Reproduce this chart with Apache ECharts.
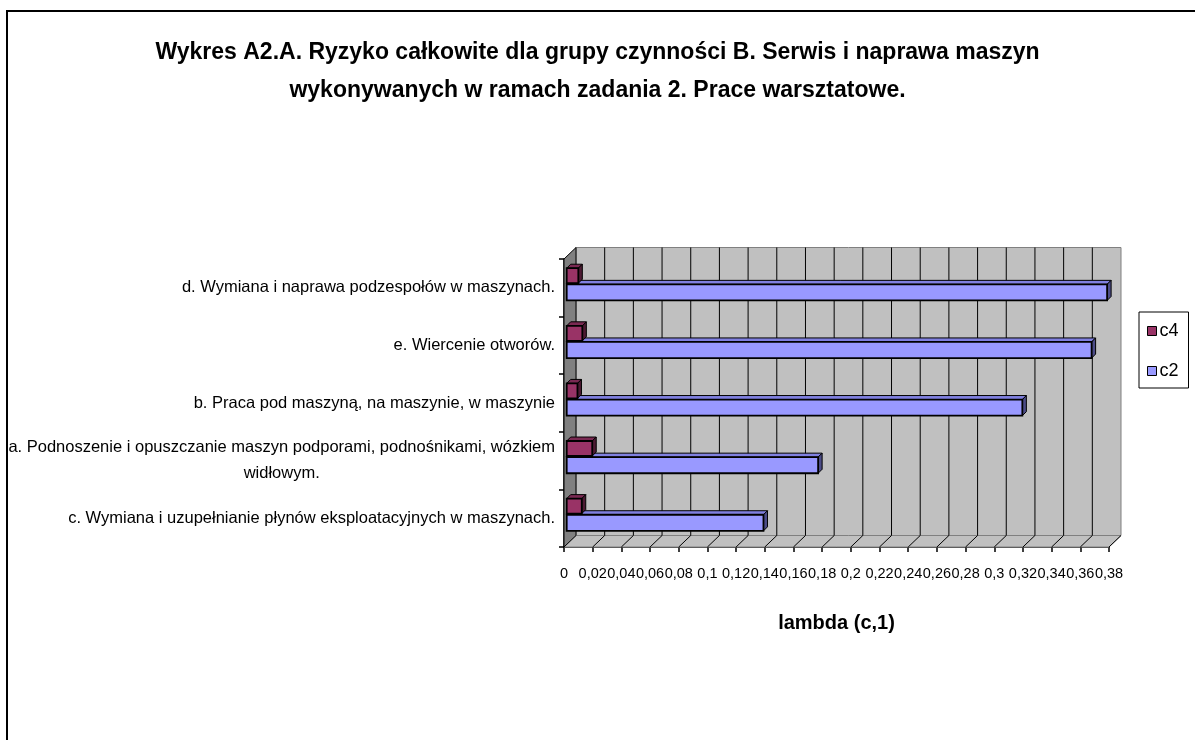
<!DOCTYPE html>
<html>
<head>
<meta charset="utf-8">
<script src="https://cdn.jsdelivr.net/npm/echarts@6/dist/echarts.min.js"></script>
<style>
  html, body { margin: 0; padding: 0; background: #fff; }
  #chart { width: 1195px; height: 740px; }
</style>
</head>
<body>
<div id="chart"></div>
<script>
// categories top to bottom, as in the picture
var categories = [
  'd. Wymiana i naprawa podzespołów w maszynach.',
  'e. Wiercenie otworów.',
  'b. Praca pod maszyną, na maszynie, w maszynie',
  'a. Podnoszenie i opuszczanie maszyn podporami, podnośnikami, wózkiem\nwidłowym.',
  'c. Wymiana i uzupełnianie płynów eksploatacyjnych w maszynach.'
];
var c4Values = [0.0081, 0.0109, 0.0075, 0.0178, 0.0105];
var c2Values = [0.3768, 0.366, 0.3177, 0.1753, 0.1372];
var xTicks = [0, 0.02, 0.04, 0.06, 0.08, 0.1, 0.12, 0.14, 0.16, 0.18, 0.2,
  0.22, 0.24, 0.26, 0.28, 0.3, 0.32, 0.34, 0.36, 0.38];
var xTickLabels = ['0', '0,02', '0,04', '0,06', '0,08', '0,1', '0,12', '0,14', '0,16', '0,18', '0,2',
  '0,22', '0,24', '0,26', '0,28', '0,3', '0,32', '0,34', '0,36', '0,38'];

var FONT = "'Liberation Sans', Arial, sans-serif";
var DX = 12, DY = 11.5;      // depth of the walls
var BX = 4, BY = 4;          // depth of the bars

var chart = echarts.init(document.getElementById('chart'));

function frameItem(params, api) {
  var cs = params.coordSys;
  var x = cs.x, y = cs.y, w = cs.width, h = cs.height;
  var kids = [];
  // back wall
  kids.push({ type: 'rect', shape: { x: x + DX, y: y - DY, width: w, height: h },
    style: { fill: '#c0c0c0', stroke: '#808080', lineWidth: 1 } });
  // floor
  kids.push({ type: 'polygon', shape: { points: [[x, y + h], [x + DX, y + h - DY], [x + w + DX, y + h - DY], [x + w, y + h]] },
    style: { fill: '#c0c0c0', stroke: '#808080', lineWidth: 1 } });
  // side wall
  kids.push({ type: 'polygon', shape: { points: [[x, y], [x + DX, y - DY], [x + DX, y + h - DY], [x, y + h]] },
    style: { fill: '#808080', stroke: '#000', lineWidth: 1 } });
  xTicks.forEach(function (t, i) {
    var px = api.coord([t, 0])[0];
    if (i > 0 && i < xTicks.length - 1) {
      kids.push({ type: 'line', shape: { x1: px + DX, y1: y - DY, x2: px + DX, y2: y + h - DY },
        style: { stroke: '#000', lineWidth: 1 } });
    }
    if (i > 0) {
      kids.push({ type: 'line', shape: { x1: px, y1: y + h, x2: px + DX, y2: y + h - DY },
        style: { stroke: '#000', lineWidth: 1 } });
    }
  });
  return { type: 'group', children: kids };
}

function barItem(top, bottom, front, topC, side) {
  return function (params, api) {
    var v = api.value(0), c = api.value(1);
    var p0 = api.coord([0, c]);
    var p1 = api.coord([v, c]);
    var band = api.size([0, 1])[1];
    var x0 = p0[0] + 2.7, x1 = p1[0] + 2.7;
    var yt = p0[1] + top * band, yb = p0[1] + bottom * band;
    return {
      type: 'group',
      children: [
        { type: 'polygon', shape: { points: [[x0, yt], [x0 + BX, yt - BY], [x1 + BX, yt - BY], [x1, yt]] },
          style: { fill: topC, stroke: '#000', lineWidth: 1 } },
        { type: 'polygon', shape: { points: [[x1, yt], [x1 + BX, yt - BY], [x1 + BX, yb - BY], [x1, yb]] },
          style: { fill: side, stroke: '#000', lineWidth: 1 } },
        { type: 'rect', shape: { x: x0, y: yt, width: x1 - x0, height: yb - yt },
          style: { fill: front, stroke: '#000', lineWidth: 1.8 } }
      ]
    };
  };
}

chart.setOption({
  backgroundColor: '#fff',
  animation: false,
  title: {
    text: 'Wykres A2.A. Ryzyko całkowite dla grupy czynności B. Serwis i naprawa maszyn\nwykonywanych w ramach zadania 2. Prace warsztatowe.',
    left: 'center',
    top: 29,
    textStyle: { fontFamily: FONT, fontSize: 23, fontWeight: 'bold', color: '#000', lineHeight: 38, align: 'center' }
  },
  graphic: [{
    type: 'rect', shape: { x: 7, y: 11, width: 1400, height: 1000 },
    style: { fill: 'none', stroke: '#000', lineWidth: 2 }, silent: true, z: 100
  }],
  legend: {
    orient: 'vertical',
    left: 1139,
    top: 312,
    padding: [10, 10, 8, 8],
    itemGap: 22,
    itemWidth: 9,
    itemHeight: 9,
    borderColor: '#000',
    borderWidth: 1,
    icon: 'rect',
    textStyle: { fontFamily: FONT, fontSize: 18, color: '#000', lineHeight: 16, padding: [0, 0, 0, -2] },
    data: [
      { name: 'c4', itemStyle: { color: '#993366', borderColor: '#000', borderWidth: 1 } },
      { name: 'c2', itemStyle: { color: '#9999ff', borderColor: '#000', borderWidth: 1 } }
    ]
  },
  grid: { left: 564, right: 86, top: 259, bottom: 193, containLabel: false, outerBoundsMode: 'none' },
  xAxis: {
    type: 'value',
    min: 0,
    max: 0.38,
    interval: 0.02,
    name: 'lambda (c,1)',
    nameLocation: 'middle',
    nameGap: 66,
    nameTextStyle: { fontFamily: FONT, fontSize: 20, fontWeight: 'bold', color: '#000' },
    axisLine: { show: true, lineStyle: { color: '#000', width: 1.5 } },
    axisTick: { show: true, length: 5, lineStyle: { color: '#000', width: 1.5 } },
    splitLine: { show: false },
    axisLabel: {
      fontFamily: FONT, fontSize: 14.5, color: '#000', margin: 19, hideOverlap: false,
      showMinLabel: true, showMaxLabel: true,
      formatter: function (v) {
        for (var i = 0; i < xTicks.length; i++) {
          if (Math.abs(xTicks[i] - v) < 1e-9) return xTickLabels[i];
        }
        return '';
      }
    }
  },
  yAxis: {
    type: 'category',
    inverse: true,
    data: categories,
    axisLine: { show: true, lineStyle: { color: '#000', width: 1.5 } },
    axisTick: { show: true, length: 5, lineStyle: { color: '#000', width: 1.5 } },
    axisLabel: {
      margin: 9,
      interval: 0,
      formatter: function (v) {
        return v.split('\n').map(function (l) { return '{c|' + l + '}'; }).join('\n');
      },
      rich: { c: { fontFamily: FONT, fontSize: 16.5, color: '#000', lineHeight: 26, align: 'center' } }
    }
  },
  series: [
    {
      name: 'frame', type: 'custom', renderItem: frameItem, data: [[0, 0]], z: 1, clip: false, silent: true
    },
    {
      name: 'c2', type: 'custom', z: 3, clip: false,
      itemStyle: { color: '#9999ff' },
      renderItem: barItem(-0.06, 0.22, '#9999ff', '#8080e0', '#4c4c88'),
      data: c2Values.map(function (v, i) { return [v, i]; })
    },
    {
      name: 'c4', type: 'custom', z: 4, clip: false,
      itemStyle: { color: '#993366' },
      renderItem: barItem(-0.34, -0.08, '#993366', '#7a2952', '#4d1a33'),
      data: c4Values.map(function (v, i) { return [v, i]; })
    }
  ]
});
</script>
</body>
</html>
